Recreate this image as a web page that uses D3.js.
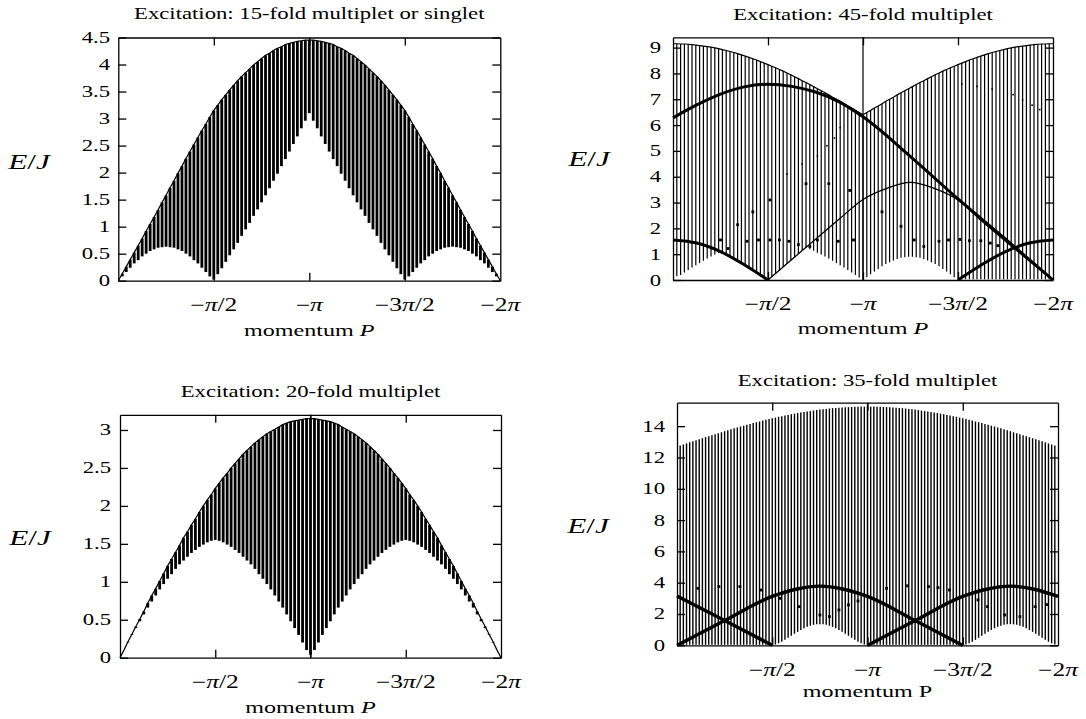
<!DOCTYPE html>
<html>
<head>
<meta charset="utf-8">
<script src="https://cdn.jsdelivr.net/npm/d3@7"></script>
<style>
  body { margin: 0; background: #fff; }
  svg text { font-family: 'Liberation Serif', 'Times New Roman', serif; fill: #000; }
</style>
</head>
<body>
<svg id="fig" width="1086" height="719"></svg>
<script>
// ---------------------------------------------------------------------------
// Data (energies E/J). Each vertical segment k sits at
// momentum P = -2*pi*k/N, N = array length + 1.

// Panel 1 : 15-fold multiplet or singlet
const p1Upper = [0.13,0.26,0.39,0.52,0.65,0.78,0.92,1.05,1.18,1.31,1.45,1.58,1.72,1.85,1.99,2.12,2.26,2.39,2.52,2.65,2.78,2.90,3.03,3.15,3.25,3.35,3.44,3.53,3.62,3.70,3.78,3.85,3.92,3.99,4.05,4.11,4.17,4.21,4.26,4.30,4.33,4.37,4.39,4.41,4.43,4.44,4.45,4.45,
  4.45,4.44,4.43,4.41,4.39,4.37,4.33,4.30,4.26,4.21,4.17,4.11,4.05,3.99,3.92,3.85,3.78,3.70,3.62,3.53,3.44,3.35,3.25,3.15,3.03,2.90,2.78,2.65,2.52,2.39,2.26,2.12,1.99,1.85,1.72,1.58,1.45,1.31,1.18,1.05,0.92,0.78,0.65,0.52,0.39,0.26,0.13];
const p1Lower = [0.08,0.16,0.24,0.32,0.38,0.45,0.50,0.55,0.58,0.61,0.62,0.63,0.62,0.61,0.58,0.55,0.50,0.45,0.38,0.32,0.24,0.16,0.08,0.02,0.12,0.23,0.35,0.47,0.58,0.70,0.83,0.95,1.07,1.20,1.32,1.45,1.58,1.71,1.85,1.98,2.12,2.25,2.39,2.53,2.67,2.82,2.96,3.10,
  2.96,2.82,2.67,2.53,2.39,2.25,2.12,1.98,1.85,1.71,1.58,1.45,1.32,1.20,1.07,0.95,0.83,0.70,0.58,0.47,0.35,0.23,0.12,0.02,0.08,0.16,0.24,0.32,0.38,0.45,0.50,0.55,0.58,0.61,0.62,0.63,0.62,0.61,0.58,0.55,0.50,0.45,0.38,0.32,0.24,0.16,0.08];

// Panel 2 : 45-fold multiplet
const p2Upper = [9.15,9.14,9.14,9.13,9.12,9.10,9.08,9.06,9.04,9.02,8.99,8.96,8.92,8.89,8.85,8.81,8.77,8.72,8.67,8.62,8.57,8.52,8.46,8.40,8.34,8.28,8.22,8.15,8.09,8.02,7.95,7.87,7.80,7.72,7.65,7.57,7.49,7.41,7.33,7.25,7.17,7.08,7.00,6.92,6.83,6.74,6.66,6.57,6.49,6.40,
  6.49,6.57,6.66,6.74,6.83,6.92,7.00,7.08,7.17,7.25,7.33,7.41,7.49,7.57,7.65,7.72,7.80,7.87,7.95,8.02,8.09,8.15,8.22,8.28,8.34,8.40,8.46,8.52,8.57,8.62,8.67,8.72,8.77,8.81,8.85,8.89,8.92,8.96,8.99,9.02,9.04,9.06,9.08,9.10,9.12,9.13,9.14,9.14,9.15];
const p2Lower = [0.15,0.19,0.29,0.39,0.48,0.57,0.66,0.75,0.83,0.91,0.99,1.06,1.06,0.99,0.91,0.83,0.75,0.66,0.57,0.48,0.39,0.29,0.19,0.10,0.02,
  0.13,0.25,0.38,0.50,0.63,0.76,0.88,1.01,1.13,1.25,1.19,1.13,1.06,0.99,0.91,0.83,0.75,0.66,0.57,0.48,0.39,0.29,0.19,0.10,0.02,
  0.11,0.22,0.33,0.43,0.53,0.62,0.69,0.76,0.81,0.86,0.88,0.90,0.90,0.88,0.86,0.81,0.76,0.69,0.62,0.53,0.43,0.33,0.22,0.11,0.02,
  0.03,0.03,0.03,0.03,0.03,0.03,0.03,0.03,0.03,0.03,0.03,0.03,0.03,0.03,0.03,0.03,0.03,0.03,0.03,0.03,0.03,0.03,0.03,0.03];
// curves: [momentum in units of -pi, E/J]
const p2ThickTop = [[0,6.28],[0.125,6.78],[0.25,7.2],[0.375,7.48],[0.5,7.58],[0.625,7.5],[0.75,7.28],[0.875,6.9],[1,6.32],[1.25,4.78],[1.5,3.14],[1.75,1.58],[2,0]];
const p2Thin = [[0.5,0],[0.625,0.79],[0.75,1.58],[0.875,2.36],[1,3.12],[1.125,3.55],[1.25,3.78],[1.375,3.55],[1.5,3.1],[1.625,2.28],[1.75,1.5],[1.875,0.74],[2,0]];
const p2ThickLeft = [[0,1.55],[0.125,1.43],[0.25,1.1],[0.375,0.59],[0.5,0]];
const p2ThickRight = [[1.5,0],[1.625,0.59],[1.75,1.1],[1.875,1.43],[2,1.55]];
const p2Dots = [[0.25,1.55],[0.29,1.22],[0.34,2.14],[0.39,1.5],[0.42,2.64],[0.45,1.55],[0.51,3.1],[0.51,1.55],[0.56,1.55],[0.61,1.5],[0.66,1.37],[0.70,3.73],[0.72,1.3],[0.76,1.55],[0.82,3.73],[0.87,1.5],[0.93,3.47],[0.95,1.55],
  [1.10,2.64],[1.20,2.08],[1.27,1.55],[1.32,1.3],[1.40,1.5],[1.45,1.55],[1.51,1.57],[1.56,1.52],[1.62,1.52],[1.67,1.43],[1.71,1.33]];
const p2SmallDots = [[0.60,4.1],[0.68,4.5],[0.76,4.8],[0.81,5.2],[0.85,5.5],[0.88,5.9],[1.52,7.6],[1.60,7.5],[1.68,7.4],[1.79,7.18],[1.84,6.97],[1.89,6.77],[1.93,6.6]];

// Panel 3 : 20-fold multiplet
const p3Upper = [0.10,0.21,0.31,0.41,0.51,0.61,0.72,0.82,0.91,1.01,1.11,1.21,1.30,1.39,1.48,1.58,1.66,1.75,1.83,1.92,2.00,2.08,2.15,2.23,2.30,2.37,2.43,2.50,2.56,2.62,2.68,2.73,2.78,2.83,2.87,2.91,2.95,2.98,3.01,3.04,3.07,3.09,3.11,3.12,3.13,3.14,3.15,3.15,
  3.15,3.14,3.13,3.12,3.11,3.09,3.07,3.04,3.01,2.98,2.95,2.91,2.87,2.83,2.78,2.73,2.68,2.62,2.56,2.50,2.43,2.37,2.30,2.23,2.15,2.08,2.00,1.92,1.83,1.75,1.66,1.58,1.48,1.39,1.30,1.21,1.11,1.01,0.91,0.82,0.72,0.61,0.51,0.41,0.31,0.21,0.10];
const p3Lower = [0.10,0.20,0.30,0.39,0.48,0.57,0.66,0.74,0.82,0.90,0.97,1.04,1.10,1.17,1.23,1.28,1.33,1.38,1.42,1.46,1.49,1.52,1.54,1.55,1.54,1.52,1.49,1.46,1.42,1.38,1.33,1.28,1.23,1.17,1.10,1.04,0.97,0.90,0.82,0.74,0.66,0.57,0.48,0.39,0.30,0.20,0.10,0.04,
  0.10,0.20,0.30,0.39,0.48,0.57,0.66,0.74,0.82,0.90,0.97,1.04,1.10,1.17,1.23,1.28,1.33,1.38,1.42,1.46,1.49,1.52,1.54,1.55,1.54,1.52,1.49,1.46,1.42,1.38,1.33,1.28,1.23,1.17,1.10,1.04,0.97,0.90,0.82,0.74,0.66,0.57,0.48,0.39,0.30,0.20,0.10];

// Panel 4 : 35-fold multiplet
const p4Upper = [12.77,12.83,12.90,12.97,13.03,13.10,13.16,13.23,13.30,13.36,13.42,13.49,13.55,13.61,13.68,13.74,13.80,13.86,13.92,13.98,14.03,14.09,14.14,14.20,14.25,14.30,14.36,14.41,14.46,14.50,14.55,14.60,14.64,14.68,14.72,14.76,14.80,14.84,14.87,14.91,14.94,14.97,15.00,15.03,15.06,15.08,15.10,15.13,15.15,15.16,15.18,15.19,15.21,15.22,15.23,15.24,15.24,15.25,15.25,15.25,
  15.25,15.25,15.24,15.24,15.23,15.22,15.21,15.19,15.18,15.16,15.15,15.13,15.10,15.08,15.06,15.03,15.00,14.97,14.94,14.91,14.87,14.84,14.80,14.76,14.72,14.68,14.64,14.60,14.55,14.50,14.46,14.41,14.36,14.30,14.25,14.20,14.14,14.09,14.03,13.98,13.92,13.86,13.80,13.74,13.68,13.61,13.55,13.49,13.42,13.36,13.30,13.23,13.16,13.10,13.03,12.97,12.90,12.83,12.77];
const p4Lower = [0.03,0.03,0.03,0.03,0.03,0.03,0.03,0.03,0.03,0.03,0.03,0.03,0.03,0.03,0.03,0.03,0.03,0.03,0.03,0.03,0.03,0.03,0.03,0.03,0.03,0.03,0.03,0.03,0.03,0.03,
  0.05,0.13,0.23,0.35,0.48,0.61,0.74,0.86,0.98,1.09,1.18,1.25,1.31,1.34,1.35,1.34,1.31,1.25,1.18,1.09,0.98,0.86,0.74,0.61,0.48,0.35,0.23,0.13,0.05,
  0.03,0.03,0.03,0.03,0.03,0.03,0.03,0.03,0.03,0.03,0.03,0.03,0.03,0.03,0.03,0.03,0.03,0.03,0.03,0.03,0.03,0.03,0.03,0.03,0.03,0.03,0.03,0.03,0.03,0.03,0.03,
  0.05,0.13,0.23,0.35,0.48,0.61,0.74,0.86,0.98,1.09,1.18,1.25,1.31,1.34,1.35,1.34,1.31,1.25,1.18,1.09,0.98,0.86,0.74,0.61,0.48,0.35,0.23,0.13,0.05];
const p4ThickA = [[0,3.15],[0.25,1.58],[0.5,0]];
const p4ThickB = [[0,0],[0.25,1.58],[0.5,3.12],[0.625,3.58],[0.75,3.78],[0.875,3.58],[1,3.12],[1.25,1.58],[1.5,0]];
const p4ThickC = [[1,0],[1.25,1.58],[1.5,3.12],[1.625,3.58],[1.75,3.78],[1.875,3.58],[2,3.12]];
const p4Dots = [[0.11,3.64],[0.22,3.75],[0.33,3.75],[0.44,3.53],[0.54,3.0],[0.64,2.47],[0.75,1.94],[0.80,1.83],[0.85,2.26],[0.90,2.58],[0.95,2.83],
  [1.10,3.64],[1.21,3.8],[1.32,3.75],[1.37,3.68],[1.43,3.53],[1.58,2.9],[1.63,2.47],[1.72,1.94],[1.80,1.83],[1.88,2.47],[1.94,2.6]];

// Axis ticks and texts
const titles = ["Excitation: 15-fold multiplet or singlet", "Excitation: 45-fold multiplet",
                "Excitation: 20-fold multiplet", "Excitation: 35-fold multiplet"];
const xTickMomenta = [0.5, 1, 1.5];            // units of -pi
const xLabelMomenta = [0.5, 1, 1.5, 2];
const xTickLabels = ["−π/2", "−π", "−3π/2", "−2π"];
const p1YTicks = [0, 0.5, 1, 1.5, 2, 2.5, 3, 3.5, 4, 4.5];
const p2YTicks = [0, 1, 2, 3, 4, 5, 6, 7, 8, 9];
const p3YTicks = [0, 0.5, 1, 1.5, 2, 2.5, 3];
const p4YTicks = [0, 2, 4, 6, 8, 10, 12, 14];

// ---------------------------------------------------------------------------
const PI = Math.PI;
const STRETCH = 1.42;   // the scanned figure is wider than tall
const svg = d3.select("#fig");

// text made of parts [string, italic]
function label(g, x, y, parts, size, anchor) {
  const t = g.append("text")
    .attr("transform", `translate(${x},${y}) scale(${STRETCH},1)`)
    .attr("text-anchor", anchor)
    .attr("font-size", size);
  parts.forEach(([s, it]) => t.append("tspan").text(s).attr("font-style", it ? "italic" : "normal"));
  return t;
}
const piParts = s => s.split(/(π)/).filter(p => p).map(p => [p, p === "π"]);

function drawPanel(c) {
  const x = d3.scaleLinear().domain([0, -2 * PI]).range([c.left, c.right]);
  const y = d3.scaleLinear().domain([0, c.yMax]).range([c.bottom, c.top]);
  const xt = t => x(-PI * t);
  const g = svg.append("g");

  // continuum : one vertical segment per momentum
  const n = c.upper.length + 1;
  const segs = c.upper.map((u, i) => ({ t: 2 * (i + 1) / n, lo: c.lower[i], hi: u }));
  g.append("g").selectAll("line").data(segs).join("line")
    .attr("x1", d => xt(d.t)).attr("x2", d => xt(d.t))
    .attr("y1", d => y(d.lo)).attr("y2", d => y(d.hi))
    .attr("stroke", "#000")
    .attr("stroke-width", c.hatch);

  // upper edge of the continuum
  if (c.outline) {
    const e0 = c.outline === "zero" ? 0 : c.upper[0];
    const e1 = c.outline === "zero" ? 0 : c.upper[n - 2];
    const pts = [[0, e0], ...segs.map(d => [d.t, d.hi]), [2, e1]];
    g.append("path")
      .attr("d", d3.line().x(d => xt(d[0])).y(d => y(d[1]))(pts))
      .attr("fill", "none").attr("stroke", "#000").attr("stroke-width", 1.2);
  }

  // line at P = -pi
  if (c.midLine) {
    g.append("line")
      .attr("x1", xt(1)).attr("x2", xt(1)).attr("y1", c.top).attr("y2", c.bottom)
      .attr("stroke", "#000").attr("stroke-width", 1.2);
  }

  // dispersion curves
  const curve = d3.line().x(d => xt(d[0])).y(d => y(d[1])).curve(d3.curveMonotoneX);
  (c.curves || []).forEach(cv => {
    g.append("path").attr("d", curve(cv.pts))
      .attr("fill", "none").attr("stroke", "#000")
      .attr("stroke-width", cv.w).attr("stroke-linejoin", "round");
  });

  // isolated states
  (c.dots || []).forEach(ds => {
    g.append("g").selectAll("rect").data(ds.pts).join("rect")
      .attr("x", d => xt(d[0]) - ds.s / 2).attr("y", d => y(d[1]) - ds.s / 2)
      .attr("width", ds.s).attr("height", ds.s).attr("fill", "#000");
  });

  // frame with inward ticks on all four sides
  const xTicks = xTickMomenta.map(t => -PI * t);
  const style = a => a.call(s => s.selectAll("line,path").attr("stroke", "#000").attr("stroke-width", 1.3));
  g.append("g").attr("transform", `translate(0,${c.bottom})`)
    .call(d3.axisBottom(x).tickValues(xTicks).tickSizeInner(-8).tickSizeOuter(0).tickFormat("")).call(style);
  g.append("g").attr("transform", `translate(0,${c.top})`)
    .call(d3.axisTop(x).tickValues(xTicks).tickSizeInner(-8).tickSizeOuter(0).tickFormat("")).call(style);
  g.append("g").attr("transform", `translate(${c.left},0)`)
    .call(d3.axisLeft(y).tickValues(c.yTicks).tickSizeInner(-8).tickSizeOuter(0).tickFormat("")).call(style);
  g.append("g").attr("transform", `translate(${c.right},0)`)
    .call(d3.axisRight(y).tickValues(c.yTicks).tickSizeInner(-8).tickSizeOuter(0).tickFormat("")).call(style);

  // tick labels
  c.yTicks.forEach(v => label(g, c.yLabelX, y(v) + 5.5, [[String(v), false]], 16, "end"));
  xLabelMomenta.forEach((t, i) => label(g, xt(t), c.xLabelY, piParts(xTickLabels[i]), 18, "middle"));

  // axis titles and panel title
  label(g, (c.left + c.right) / 2, c.xTitleY, [["momentum ", false], ["P", c.italicP]], 17, "middle");
  label(g, c.ejX, c.ejY, [["E", true], ["/", false], ["J", true]], 22, "middle");
  label(g, (c.left + c.right) / 2, c.titleY, [[c.title, false]], 16, "middle");
}

drawPanel({
  left: 118.3, right: 500.3, top: 37.5, bottom: 280.7, yMax: 4.5, yTicks: p1YTicks,
  upper: p1Upper, lower: p1Lower, hatch: 2.8, outline: "zero",
  yLabelX: 110, xLabelY: 311, xTitleY: 336, titleY: 19, ejX: 29, ejY: 169,
  italicP: true, title: titles[0]
});

drawPanel({
  left: 673, right: 1053, top: 37.3, bottom: 280, yMax: 9.4, yTicks: p2YTicks,
  upper: p2Upper, lower: p2Lower, hatch: 1.2, outline: "edge", midLine: true,
  curves: [{ pts: p2ThickTop, w: 3 }, { pts: p2Thin, w: 1.3 }, { pts: p2ThickLeft, w: 3 }, { pts: p2ThickRight, w: 3 }],
  dots: [{ pts: p2Dots, s: 2.8 }, { pts: p2SmallDots, s: 1.6 }],
  yLabelX: 661, xLabelY: 310, xTitleY: 334, titleY: 20, ejX: 589, ejY: 166,
  italicP: true, title: titles[1]
});

drawPanel({
  left: 120, right: 501, top: 414.8, bottom: 657.7, yMax: 3.2, yTicks: p3YTicks,
  upper: p3Upper, lower: p3Lower, hatch: 2.8, outline: "zero", midLine: true,
  yLabelX: 111, xLabelY: 688, xTitleY: 713, titleY: 397, ejX: 30, ejY: 545,
  italicP: true, title: titles[2]
});

drawPanel({
  left: 677, right: 1058, top: 402.7, bottom: 645.3, yMax: 15.5, yTicks: p4YTicks,
  upper: p4Upper, lower: p4Lower, hatch: 1.4, midLine: true,
  curves: [{ pts: p4ThickA, w: 3.4 }, { pts: p4ThickB, w: 3.4 }, { pts: p4ThickC, w: 3.4 }],
  dots: [{ pts: p4Dots, s: 2.8 }],
  yLabelX: 665, xLabelY: 676, xTitleY: 697, titleY: 386, ejX: 588, ejY: 533,
  italicP: false, title: titles[3]
});
</script>
</body>
</html>
